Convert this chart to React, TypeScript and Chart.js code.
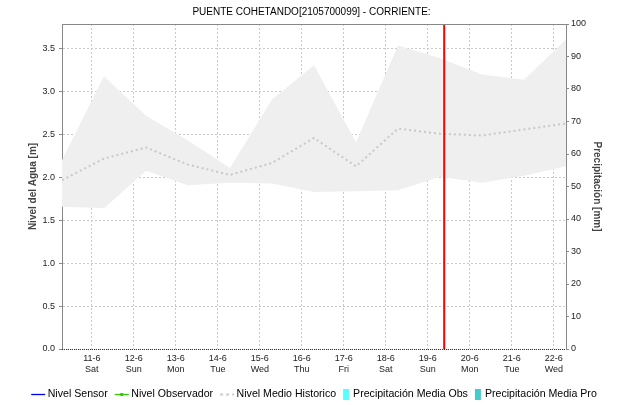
import React, { useEffect, useRef } from 'react';
import { Chart, registerables } from 'chart.js';

Chart.register(...registerables);

const TITLE = 'PUENTE COHETANDO[2105700099] - CORRIENTE:';
const LEFT_TITLE = 'Nivel del Agua [m]';
const RIGHT_TITLE = 'Precipitación [mm]';

// x in days from 10-6 07:00
const DAY_TICKS = [0.71, 1.71, 2.71, 3.71, 4.71, 5.71, 6.71, 7.71, 8.71, 9.71, 10.71, 11.71];
const DAY_LABELS = ['11-6', '12-6', '13-6', '14-6', '15-6', '16-6', '17-6', '18-6', '19-6', '20-6', '21-6', '22-6'];
const WEEKDAY_LABELS = ['Sat', 'Sun', 'Mon', 'Tue', 'Wed', 'Thu', 'Fri', 'Sat', 'Sun', 'Mon', 'Tue', 'Wed'];
const X_MIN = 0;
const X_MAX = 12;

const SAMPLE_X = [0, 1, 2, 3, 4, 5, 6, 7, 8, 9, 10, 11, 12];
const HIST_MAX = [2.2, 3.18, 2.72, 2.43, 2.11, 2.91, 3.31, 2.41, 3.54, 3.39, 3.2, 3.14, 3.61];
const HIST_MIN = [1.66, 1.64, 2.08, 1.91, 1.94, 1.93, 1.83, 1.84, 1.85, 2.01, 1.94, 2.02, 2.13];
const HIST_MEAN = [1.97, 2.22, 2.35, 2.15, 2.03, 2.17, 2.46, 2.13, 2.57, 2.51, 2.49, 2.56, 2.63];

const NIVEL_SENSOR: { x: number; y: number }[] = [];
const NIVEL_OBSERVADOR: { x: number; y: number }[] = [];
const PRECIP_OBS: { x: number; y: number }[] = [];
const PRECIP_PRO: { x: number; y: number }[] = [];

const NOW_X = 9.1;

const LEVEL_MAX = 3.79;
const LEVEL_TICKS = [0, 0.5, 1.0, 1.5, 2.0, 2.5, 3.0, 3.5];
const PRECIP_MAX = 100;
const PRECIP_TICKS = [0, 10, 20, 30, 40, 50, 60, 70, 80, 90, 100];

const FONT = '"Liberation Sans", Arial, Helvetica, sans-serif';

const LEGEND_ITEMS = [
  { label: 'Nivel Sensor', kind: 'line', color: '#0000ff' },
  { label: 'Nivel Observador', kind: 'marker', color: '#33cc00' },
  { label: 'Nivel Medio Historico', kind: 'dash', color: '#cccccc' },
  { label: 'Precipitación Media Obs', kind: 'box', color: '#55ffff' },
  { label: 'Precipitación Media Pro', kind: 'box', color: '#44cccc' },
];

const framePlugin = {
  id: 'frame',
  afterDraw(chart: any) {
    const { ctx, chartArea } = chart;
    const { left, right, top, bottom } = chartArea;
    ctx.save();
    ctx.strokeStyle = '#888888';
    ctx.lineWidth = 1;
    ctx.beginPath();
    ctx.moveTo(left, Math.round(top) + 0.5);
    ctx.lineTo(right, Math.round(top) + 0.5);
    ctx.stroke();
    ctx.strokeStyle = '#333333';
    ctx.setLineDash([1, 1]);
    ctx.beginPath();
    ctx.moveTo(left, Math.round(bottom) + 0.5);
    ctx.lineTo(right, Math.round(bottom) + 0.5);
    ctx.stroke();
    ctx.setLineDash([]);

    // legend
    ctx.font = `10.6px ${FONT}`;
    ctx.textBaseline = 'middle';
    ctx.fillStyle = '#000000';
    const y = 394.5;
    const gap = 7;
    const widths = LEGEND_ITEMS.map((it) => {
      const sw = it.kind === 'box' ? 6 : 14;
      const tg = it.kind === 'box' ? 4 : 2.5;
      return sw + tg + ctx.measureText(it.label).width;
    });
    const total = widths.reduce((a, b) => a + b, 0) + gap * (LEGEND_ITEMS.length - 1);
    let x = (left + right) / 2 - total / 2;
    LEGEND_ITEMS.forEach((it, i) => {
      const sw = it.kind === 'box' ? 6 : 14;
      const tg = it.kind === 'box' ? 4 : 2.5;
      if (it.kind === 'box') {
        ctx.fillStyle = it.color;
        ctx.fillRect(x, y - 5.5, sw, 11);
      } else {
        ctx.strokeStyle = it.color;
        ctx.lineWidth = it.kind === 'dash' ? 2 : 1.3;
        if (it.kind === 'dash') ctx.setLineDash([3, 3]);
        ctx.beginPath();
        ctx.moveTo(x, y);
        ctx.lineTo(x + sw, y);
        ctx.stroke();
        ctx.setLineDash([]);
        if (it.kind === 'marker') {
          ctx.fillStyle = it.color;
          ctx.fillRect(x + sw / 2 - 1.5, y - 1.5, 3, 3);
        }
      }
      ctx.fillStyle = '#000000';
      ctx.textAlign = 'left';
      ctx.fillText(it.label, x + sw + tg, y);
      x += widths[i] + gap;
    });
    ctx.restore();
  },
};

export default function App() {
  const ref = useRef<HTMLCanvasElement | null>(null);

  useEffect(() => {
    document.body.style.margin = '0';
    const canvas = ref.current;
    if (!canvas) return;
    const pts = (ys: number[]) => SAMPLE_X.map((x, i) => ({ x, y: ys[i] }));

    const chart = new Chart(canvas, {
      type: 'line',
      data: {
        datasets: [
          {
            label: 'Min Historico',
            data: pts(HIST_MIN),
            borderWidth: 0,
            pointRadius: 0,
            fill: false,
            borderColor: 'rgba(0,0,0,0)',
            yAxisID: 'y',
            order: 5,
          },
          {
            label: 'Max Historico',
            data: pts(HIST_MAX),
            borderWidth: 0,
            pointRadius: 0,
            fill: '-1',
            backgroundColor: '#efefef',
            borderColor: 'rgba(0,0,0,0)',
            yAxisID: 'y',
            order: 4,
          },
          {
            label: 'Nivel Medio Historico',
            data: pts(HIST_MEAN),
            borderColor: '#c8c8c8',
            borderWidth: 2,
            borderDash: [2, 3],
            pointRadius: 0,
            fill: false,
            yAxisID: 'y',
            order: 3,
          },
          {
            label: 'Nivel Sensor',
            data: NIVEL_SENSOR,
            borderColor: '#0000ff',
            borderWidth: 1,
            pointRadius: 0,
            yAxisID: 'y',
          },
          {
            label: 'Nivel Observador',
            data: NIVEL_OBSERVADOR,
            borderColor: '#33cc00',
            borderWidth: 1,
            pointRadius: 2,
            yAxisID: 'y',
          },
          {
            type: 'bar',
            label: 'Precipitación Media Obs',
            data: PRECIP_OBS,
            backgroundColor: '#55ffff',
            yAxisID: 'y1',
          } as any,
          {
            type: 'bar',
            label: 'Precipitación Media Pro',
            data: PRECIP_PRO,
            backgroundColor: '#44cccc',
            yAxisID: 'y1',
          } as any,
          {
            label: 'Ahora',
            data: [
              { x: NOW_X, y: 0 },
              { x: NOW_X, y: LEVEL_MAX },
            ],
            borderColor: '#ff0000',
            borderWidth: 2,
            pointRadius: 0,
            fill: false,
            yAxisID: 'y',
            order: 0,
          },
        ],
      },
      options: {
        responsive: false,
        animation: false,
        events: [],
        layout: { padding: 0 },
        plugins: {
          legend: { display: false },
          tooltip: { enabled: false },
          title: {
            display: true,
            text: TITLE,
            color: '#000000',
            font: { family: FONT, size: 10, weight: 'normal', lineHeight: 1.2 },
            padding: { top: 6, bottom: 6 },
          },
        },
        scales: {
          x: {
            type: 'linear',
            min: X_MIN,
            max: X_MAX,
            offset: false,
            z: 1,
            afterBuildTicks: (s: any) => {
              s.ticks = DAY_TICKS.map((v) => ({ value: v }));
            },
            afterFit: (s: any) => {
              s.height = 56;
            },
            grid: {
              offset: false,
              color: '#c8c8c8',
              lineWidth: 1,
              drawTicks: false,
              borderDash: [2, 2],
            } as any,
            border: { display: false, dash: [2, 2] },
            ticks: {
              autoSkip: false,
              maxRotation: 0,
              padding: 4,
              color: '#222222',
              font: { family: FONT, size: 9, lineHeight: 1.22 },
              callback: (_v: any, i: number) => [DAY_LABELS[i], WEEKDAY_LABELS[i]],
            },
          },
          y: {
            type: 'linear',
            position: 'left',
            min: 0,
            max: LEVEL_MAX,
            z: 1,
            afterBuildTicks: (s: any) => {
              s.ticks = LEVEL_TICKS.map((v) => ({ value: v }));
            },
            afterFit: (s: any) => {
              s.width = 62;
            },
            grid: {
              color: '#c8c8c8',
              lineWidth: 1,
              drawTicks: true,
              tickLength: 3,
              tickColor: '#888888',
              tickBorderDash: [],
              borderDash: [2, 2],
            } as any,
            border: { display: true, color: '#888888', width: 1, dash: [2, 2] },
            ticks: {
              padding: 4,
              color: '#222222',
              font: { family: FONT, size: 9 },
              callback: (v: any) => Number(v).toFixed(1),
            },
            title: {
              display: true,
              text: LEFT_TITLE,
              color: '#444444',
              font: { family: FONT, size: 10, weight: 'bold', lineHeight: 1.2 },
              padding: { top: 27, bottom: 0 },
            },
          },
          y1: {
            type: 'linear',
            position: 'right',
            min: 0,
            max: PRECIP_MAX,
            z: 1,
            afterBuildTicks: (s: any) => {
              s.ticks = PRECIP_TICKS.map((v) => ({ value: v }));
            },
            afterFit: (s: any) => {
              s.width = 57;
            },
            grid: {
              drawOnChartArea: false,
              drawTicks: true,
              tickLength: 3,
              tickColor: '#888888',
              color: '#888888',
            },
            border: { display: true, color: '#888888', width: 1 },
            ticks: {
              padding: 2,
              color: '#222222',
              font: { family: FONT, size: 9 },
            },
            title: {
              display: true,
              text: RIGHT_TITLE,
              color: '#444444',
              font: { family: FONT, size: 10, weight: 'bold', lineHeight: 1.2 },
              padding: { top: 20, bottom: 0 },
            },
          },
        },
      } as any,
      plugins: [framePlugin],
    });

    return () => chart.destroy();
  }, []);

  return (
    <div style={{ position: 'absolute', left: 0, top: 0, width: 623, height: 405 }}>
      <canvas ref={ref} width={623} height={405} style={{ display: 'block' }} />
    </div>
  );
}
